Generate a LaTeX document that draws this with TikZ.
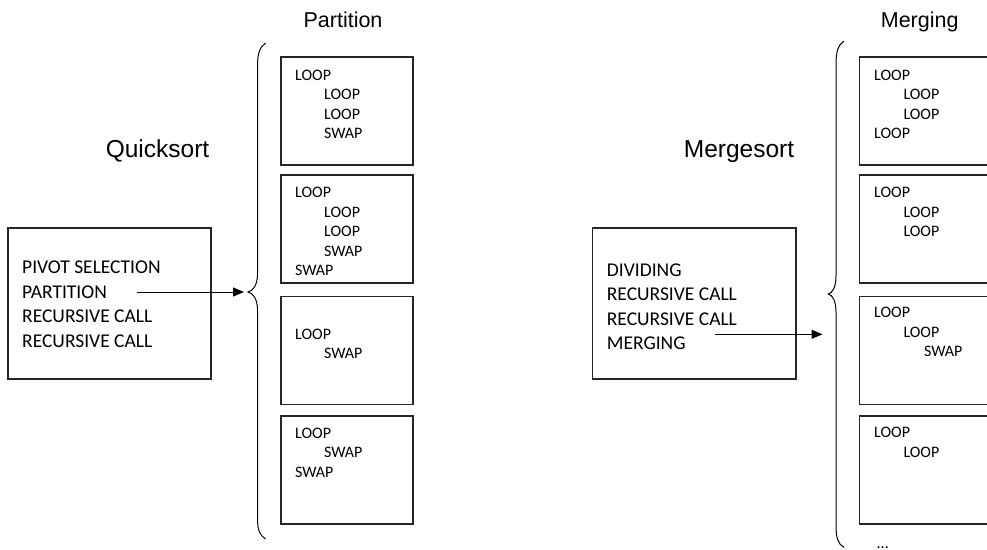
\documentclass[tikz,border=0pt]{standalone}
\usepackage{fontspec}
\setmainfont{Carlito}
\newfontfamily\arialf{Liberation Sans}
\usetikzlibrary{arrows.meta}
\tikzset{
  boxst/.style={draw=black!85, line width=1.3pt, inner sep=0pt, minimum width=132pt, minimum height=108pt},
  bigbox/.style={draw=black!85, line width=1.3pt, inner sep=0pt},
  smalltxt/.style={anchor=base west, inner sep=0pt, font=\fontsize{16}{19.6}\selectfont},
  bigtxt/.style={anchor=base west, inner sep=0pt, font=\fontsize{19.5}{24.5}\selectfont},
  titletxt/.style={anchor=base, inner sep=0pt, font=\arialf\fontsize{24.5}{28}\selectfont},
  subtitletxt/.style={anchor=base, inner sep=0pt, font=\arialf\fontsize{21.5}{25}\selectfont},
  bracest/.style={draw=black, line width=1pt},
  arr/.style={draw=black, line width=1pt, -{Triangle[length=11pt,width=9pt]}}
}
\newcommand\boxlines[4]{%
  \foreach \ind/\txt [count=\k] in {#4}
    \node[smalltxt] (#1-\k) at ({#2+\ind}, {#3+(\k-1)*19.6}) {\txt};}
\begin{document}
\begin{tikzpicture}[x=1pt,y=-1pt]
\useasboundingbox (0,0) rectangle (987,549);
\clip (0,0) rectangle (987,549);

% titles
\node[titletxt] (qs) at (157.5,157) {Quicksort};
\node[subtitletxt] (pt) at (343,27) {Partition};
\node[titletxt] (ms) at (739,157) {Mergesort};
\node[subtitletxt] (mg) at (919.7,27) {Merging};

% ---------- Quicksort ----------
\node[bigbox, minimum width=203pt, minimum height=151pt] (qbox) at (109.5,303.5) {};
\node[bigtxt] (q1) at (22,273.5) {PIVOT SELECTION};
\node[bigtxt] (q2) at (22,298) {PARTITION};
\node[bigtxt] (q3) at (22,322.5) {RECURSIVE CALL};
\node[bigtxt] (q4) at (22,347) {RECURSIVE CALL};

\node[boxst] (pb1) at (347,111) {};
\node[boxst] (pb2) at (347,229) {};
\node[boxst] (pb3) at (347,350.5) {};
\node[boxst] (pb4) at (347,470) {};
\boxlines{pl1}{295}{80}{0/LOOP,29/LOOP,29/LOOP,29/SWAP}
\boxlines{pl2}{295}{197.5}{0/LOOP,29/LOOP,29/LOOP,29/SWAP,0/SWAP}
\boxlines{pl3}{295}{339}{0/LOOP,29/SWAP}
\boxlines{pl4}{295}{438.3}{0/LOOP,29/SWAP,0/SWAP}

% left brace
\coordinate (lbtop) at (265.7,43);
\coordinate (lbtip) at (248,292);
\coordinate (lbbot) at (265.5,539);
\draw[bracest] (lbtop) .. controls (259.5,47) and (257.5,54) .. (257.5,66)
  -- (257.5,274) .. controls (257.5,285) and (253,291) .. (lbtip)
  .. controls (253,293) and (257.5,299) .. (257.5,310)
  -- (257.5,518) .. controls (257.5,530) and (259.5,535) .. (lbbot);

\coordinate (qa) at (137,292);
\coordinate (qe) at (244,292);
\draw[arr] (qa) -- (qe);

% ---------- Mergesort ----------
\node[bigbox, minimum width=203.3pt, minimum height=151pt] (mbox) at (694.3,303.5) {};
\node[bigtxt] (m1) at (606.7,276) {DIVIDING};
\node[bigtxt] (m2) at (606.7,300.5) {RECURSIVE CALL};
\node[bigtxt] (m3) at (606.7,325) {RECURSIVE CALL};
\node[bigtxt] (m4) at (606.7,349.5) {MERGING};

\node[boxst] (mb1) at (925.3,111) {};
\node[boxst] (mb2) at (925.3,229) {};
\node[boxst] (mb3) at (925.3,350.5) {};
\node[boxst] (mb4) at (925.3,470) {};
\boxlines{ml1}{874}{80}{0/LOOP,29.3/LOOP,29.3/LOOP,0/LOOP}
\boxlines{ml2}{874}{197.5}{0/LOOP,29.3/LOOP,29.3/LOOP}
\boxlines{ml3}{874}{317.7}{0/LOOP,29.3/LOOP,50/SWAP}
\boxlines{ml4}{874}{437.7}{0/LOOP,29.3/LOOP}

% right brace
\coordinate (rbtop) at (844,41);
\coordinate (rbtip) at (828.3,294);
\coordinate (rbbot) at (844,547.5);
\draw[bracest] (rbtop) .. controls (838,45) and (836,52) .. (836,64)
  -- (836,276) .. controls (836,287) and (832.5,293) .. (rbtip)
  .. controls (832.5,295) and (836,301) .. (836,312)
  -- (836,526) .. controls (836,538) and (838,544) .. (rbbot);

\coordinate (ma) at (715,334.3);
\coordinate (me) at (822.5,334.3);
\draw[arr] (ma) -- (me);

\node[smalltxt] (dots) at (876.5,548) {...};
\end{tikzpicture}
\end{document}
